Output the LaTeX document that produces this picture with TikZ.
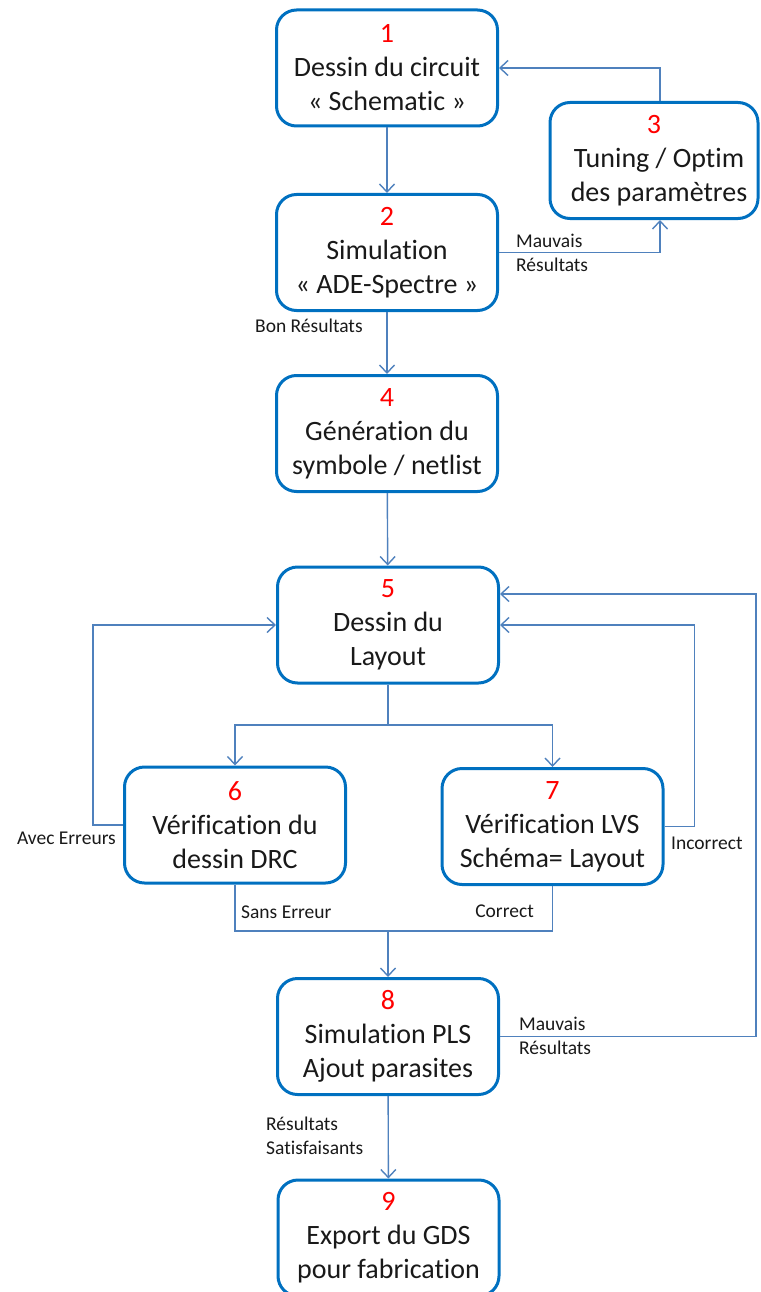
\documentclass[tikz,border=0pt]{standalone}
\usepackage{fontspec}
\setmainfont{Carlito}[RawFeature={-liga}]
\usetikzlibrary{arrows.meta}
\definecolor{boxblue}{HTML}{0070C0}
\definecolor{linkblue}{HTML}{4F81BD}
\definecolor{numred}{HTML}{FF0000}
\tikzset{
  stepbox/.style={draw=boxblue, line width=3pt, rounded corners=20pt, inner sep=0pt,
    minimum width=221pt, minimum height=116pt, align=center, text=black!90,
    font=\fontsize{28}{34}\selectfont},
  link/.style={draw=linkblue, line width=1.4pt, -{Straight Barb[length=8pt,width=15pt,line width=1.4pt]}},
  plain/.style={draw=linkblue, line width=1.4pt},
  lbl/.style={inner sep=0pt, text=black!90, font=\fontsize{19.5}{24}\selectfont, align=left}
}
\newcommand{\num}[1]{\textcolor{numred}{#1}}
\begin{document}
\begin{tikzpicture}[x=1pt,y=-1pt]
\useasboundingbox (0,0) rectangle (760,1292);
\node[stepbox] (b1) at (387,68) {\num{1}\\Dessin du circuit\\« Schematic »};
\node[stepbox] (b2) at (387,252.5) {\num{2}\\Simulation\\« ADE-Spectre »};
\node[stepbox, minimum width=208pt] (b3) at (654,160.5) {\num{3}\\\hspace*{10pt}Tuning / Optim\\\hspace*{10pt}des paramètres};
\node[stepbox] (b4) at (387,433.5) {\num{4}\\Génération du\\symbole / netlist};
\node[stepbox] (b5) at (388,625) {\num{5}\\Dessin du\\Layout};
\node[stepbox] (b6) at (235,825) {\num{6}\\Vérification du\\dessin DRC};
\node[stepbox] (b7) at (552.5,826.5) {\num{7}\\Vérification LVS\\Schéma= Layout};
\node[stepbox] (b8) at (388,1036.5) {\num{8}\\Simulation PLS\\Ajout parasites};
\node[stepbox] (b9) at (388.5,1238) {\num{9}\\Export du GDS\\pour fabrication};

\coordinate (split) at (388,725);
\coordinate (merge) at (388,931);

\path[link] (b1) -- (b2);
\path[link] ([xshift=6pt]b3.north) |- (b1.east);
\path[link] (b2.east) -| ([xshift=6pt]b3.south);
\path[link] (b2) -- (b4);
\path[link] (b4) -- (b5);
\path[plain] (b5.south) -- (split);
\path[link] (split) -| (b6.north);
\path[link] (split) -| (b7.north);
\path[link] (b6.west) -- ++(-30,0) |- (b5.west);
\path[link] (b7.east) -- ++(30,0) |- (b5.east);
\path[plain] (b6.south) |- (merge);
\path[plain] (b7.south) |- (merge);
\path[link] (merge) -- (b8.north);
\path[link] (b8.east) -- ++(256,0) |- ([yshift=31pt]b5.east);
\path[link] (b8) -- (b9);

\node[lbl, anchor=west] (l2a) at (516,241) {Mauvais};
\node[lbl, anchor=west] (l2b) at (516,265) {Résultats};
\node[lbl, anchor=west] (l2c) at (255,326) {Bon Résultats};
\node[lbl, anchor=east] (l6) at (116,838) {Avec Erreurs};
\node[lbl, anchor=west] (l7) at (671,843) {Incorrect};
\node[lbl, anchor=west] (l6b) at (241,912) {Sans Erreur};
\node[lbl, anchor=east] (l7b) at (534,911) {Correct};
\node[lbl, anchor=west] (l8a) at (519,1024) {Mauvais};
\node[lbl, anchor=west] (l8b) at (519,1048) {Résultats};
\node[lbl, anchor=west] (l8c) at (266,1124) {Résultats};
\node[lbl, anchor=west] (l8d) at (266,1148) {Satisfaisants};
\end{tikzpicture}
\end{document}
